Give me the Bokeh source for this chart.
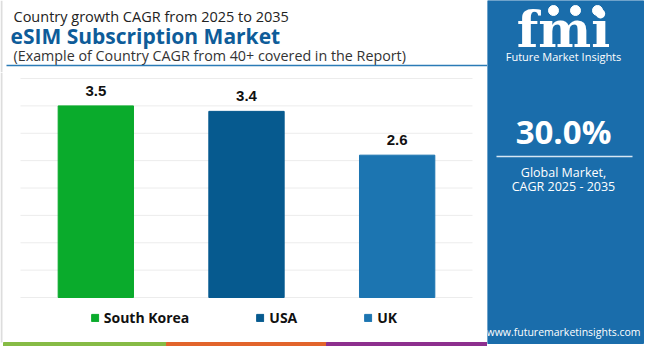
from bokeh.plotting import figure
from bokeh.models import Range1d, Legend, LegendItem, ColumnDataSource
from bokeh.layouts import row, column
from bokeh.embed import file_html
from bokeh.resources import INLINE
from bokeh.core.properties import value

# ---- data ----
countries = ["South Korea", "USA", "UK"]
cagr = [3.5, 3.4, 2.6]
bar_colors = ["#0aab2c", "#065a8f", "#1c75b1"]
grid_vals = [0, 0.5, 1, 1.5, 2, 2.5, 3, 3.5, 4]
title_top = "Country growth CAGR from 2025 to 2035"
title_main = "eSIM Subscription Market"
title_sub = "(Example of Country CAGR from 40+ covered in the Report)"
global_cagr = "30.0%"
global_lbl = ["Global Market,", "CAGR 2025 - 2035"]
brand = "Future Market Insights"
site = "www.futuremarketinsights.com"

FONT = "Open Sans"
PANEL = "#1a6dab"

def blank(w, h, xr, yr):
    f = figure(width=w, height=h, x_range=xr, y_range=yr, output_backend="svg",
               toolbar_location=None, min_border=0)
    f.axis.visible = False
    f.grid.visible = False
    f.outline_line_color = None
    f.background_fill_color = "white"
    f.border_fill_color = "white"
    return f

# ---- header ----
hdr = blank(487, 72, Range1d(0, 487), Range1d(72, 0))
hdr.text(x=[13], y=[16], text=[title_top], text_font=value(FONT), text_font_size="14.5px",
         text_color="#222222", text_baseline="middle")
hdr.text(x=[10], y=[35], text=[title_main], text_font=value(FONT), text_font_size="21px",
         text_font_style="bold", text_color="#0e5c99", text_baseline="middle")
hdr.text(x=[13], y=[55], text=[title_sub], text_font=value(FONT), text_font_size="14.3px",
         text_color="#333333", text_baseline="middle")
hdr.segment(x0=[6], y0=[65], x1=[487], y1=[65], line_color="#2b7bb6", line_width=1.5)
hdr.segment(x0=[1], y0=[0], x1=[1], y1=[72], line_color="#dddddd", line_width=2)

# ---- chart (frame spans the whole figure; category i sits at slot i+0.5) ----
slot = [i + 0.5 for i in range(len(countries))]
src = ColumnDataSource(dict(country=countries, slot=slot, cagr=cagr, color=bar_colors,
                            lbl=[f"{v:.1f}" for v in cagr]))
p = figure(width=487, height=274, x_range=Range1d(-0.1327, 3.0996),
           y_range=Range1d(-0.895, 4.11),
           output_backend="svg", toolbar_location=None, min_border=0)
p.extra_x_ranges = {"px": Range1d(0, 487)}
p.extra_y_ranges = {"py": Range1d(346, 72)}
p.outline_line_color = None
p.axis.visible = False
p.grid.visible = False
p.background_fill_color = "white"
p.border_fill_color = "white"

# grid lines over the category band
p.segment(x0=[0] * len(grid_vals), x1=[len(countries)] * len(grid_vals), y0=grid_vals, y1=grid_vals,
          line_color="#ececec", line_width=1)
r = p.vbar(x="slot", top="cagr", width=0.5, color="color", source=src)
p.text(x="slot", y="cagr", text="lbl", source=src, text_align="center",
       text_baseline="middle", y_offset=-15, text_font=value("Liberation Sans"),
       text_font_size="15px", text_font_style="bold", text_color="#111111")
# bottom stripe and left border
p.quad(left=[3, 166, 326], right=[166, 326, 487], bottom=[346, 346, 346], top=[342, 342, 342],
       color=["#86bb45", "#e2642b", "#8d2f8e"], x_range_name="px", y_range_name="py")
p.segment(x0=[1], y0=[72], x1=[1], y1=[342], line_color="#dddddd", line_width=2,
          x_range_name="px", y_range_name="py")

items = [LegendItem(label=c, renderers=[r], index=i) for i, c in enumerate(countries)]
leg = Legend(items=items, orientation="horizontal", location="bottom_center",
             glyph_width=9, glyph_height=9, label_standoff=5, spacing=66,
             label_text_font=FONT, label_text_font_size="14px", label_text_font_style="bold",
             label_text_color="#111111", border_line_color=None, padding=0, margin=19,
             background_fill_alpha=0)
p.add_layout(leg)

# ---- right panel ----
pan = blank(163, 346, Range1d(0, 163), Range1d(346, 0))
pan.quad(left=[0], right=[156], top=[0], bottom=[343], color=PANEL)
pan.text(x=[76], y=[29], text=["fmi"], text_font=value("DejaVu Serif"), text_font_size="50px",
         text_font_style="bold", text_color="white", text_align="center", text_baseline="middle")
pan.scatter(x=[66, 88, 110], y=[10, 10, 10], size=10, color="white")
pan.text(x=[76], y=[56], text=[brand], text_font=value(FONT), text_font_size="11px",
         text_color="white", text_align="center", text_baseline="middle")
pan.text(x=[76], y=[131], text=[global_cagr], text_font=value(FONT), text_font_size="33px",
         text_font_style="bold", text_color="white", text_align="center", text_baseline="middle")
pan.segment(x0=[9], y0=[156], x1=[145], y1=[156], line_color="#d6e6f3", line_width=1.5)
pan.text(x=[76, 76], y=[172, 186], text=global_lbl, text_font=value(FONT), text_font_size="12.5px",
         text_color="white", text_align="center", text_baseline="middle")
pan.text(x=[76], y=[331], text=[site], text_font=value(FONT), text_font_size="10.5px",
         text_color="white", text_align="center", text_baseline="middle")

layout = row(column(hdr, p, spacing=0), pan, spacing=0)
open("out.html", "w").write(file_html(layout, INLINE))
